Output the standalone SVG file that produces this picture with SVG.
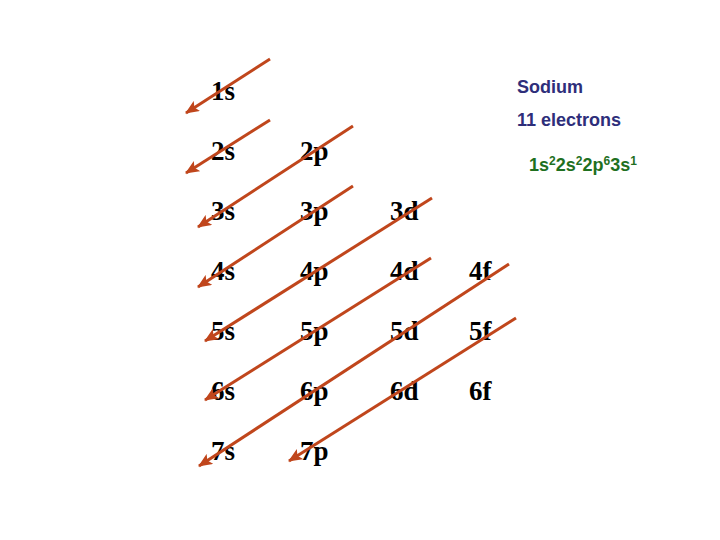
<svg xmlns="http://www.w3.org/2000/svg" width="720" height="540" viewBox="0 0 720 540">
<style>
.orb{font-family:"Liberation Serif","Times New Roman",serif;font-weight:bold;font-size:27px;fill:#000}
.info{font-family:"Liberation Sans",Arial,sans-serif;font-weight:bold;font-size:18px;fill:#2e2e7a}
.cfg{font-family:"Liberation Sans",Arial,sans-serif;font-weight:bold;font-size:18px;fill:#1f701f}
.sup{font-size:12px}
.arr{stroke:#c0461c;stroke-width:3;fill:none;marker-end:url(#ah)}
</style>
<defs>
<marker id="ah" markerUnits="userSpaceOnUse" markerWidth="14" markerHeight="12" viewBox="0 0 14 12" refX="13" refY="6" orient="auto">
<path d="M0,0 L14,6 L0,12 L3,6 Z" fill="#c0461c"/>
</marker>
</defs>
<rect width="720" height="540" fill="#fff"/>
<g id="orbitals">
<g id="n1s"><text class="orb" x="211" y="100">1s</text></g>
<g id="n2s"><text class="orb" x="211" y="160">2s</text></g>
<g id="n2p"><text class="orb" x="300" y="160">2p</text></g>
<g id="n3s"><text class="orb" x="211" y="220">3s</text></g>
<g id="n3p"><text class="orb" x="300" y="220">3p</text></g>
<g id="n3d"><text class="orb" x="390" y="220">3d</text></g>
<g id="n4s"><text class="orb" x="211" y="280">4s</text></g>
<g id="n4p"><text class="orb" x="300" y="280">4p</text></g>
<g id="n4d"><text class="orb" x="390" y="280">4d</text></g>
<g id="n4f"><text class="orb" x="469" y="280">4f</text></g>
<g id="n5s"><text class="orb" x="211" y="340">5s</text></g>
<g id="n5p"><text class="orb" x="300" y="340">5p</text></g>
<g id="n5d"><text class="orb" x="390" y="340">5d</text></g>
<g id="n5f"><text class="orb" x="469" y="340">5f</text></g>
<g id="n6s"><text class="orb" x="211" y="400">6s</text></g>
<g id="n6p"><text class="orb" x="300" y="400">6p</text></g>
<g id="n6d"><text class="orb" x="390" y="400">6d</text></g>
<g id="n6f"><text class="orb" x="469" y="400">6f</text></g>
<g id="n7s"><text class="orb" x="211" y="460">7s</text></g>
<g id="n7p"><text class="orb" x="300" y="460">7p</text></g>
</g>
<g id="info">
<text class="info" x="517" y="93">Sodium</text>
<text class="info" x="517" y="126">11 electrons</text>
<text class="cfg" x="529" y="171">1s<tspan class="sup" dy="-6">2</tspan><tspan dy="6">2s</tspan><tspan class="sup" dy="-6">2</tspan><tspan dy="6">2p</tspan><tspan class="sup" dy="-6">6</tspan><tspan dy="6">3s</tspan><tspan class="sup" dy="-6">1</tspan></text>
</g>
<g id="connectors">
<line class="arr" x1="270" y1="59" x2="186" y2="113"/>
<line class="arr" x1="270" y1="120" x2="186" y2="173"/>
<line class="arr" x1="353" y1="126" x2="198" y2="227"/>
<line class="arr" x1="353" y1="186" x2="198" y2="287"/>
<line class="arr" x1="432" y1="198" x2="205" y2="341"/>
<line class="arr" x1="431" y1="258" x2="205" y2="400"/>
<line class="arr" x1="509" y1="264" x2="199" y2="466"/>
<line class="arr" x1="516" y1="318" x2="289" y2="461"/>
</g>
</svg>
